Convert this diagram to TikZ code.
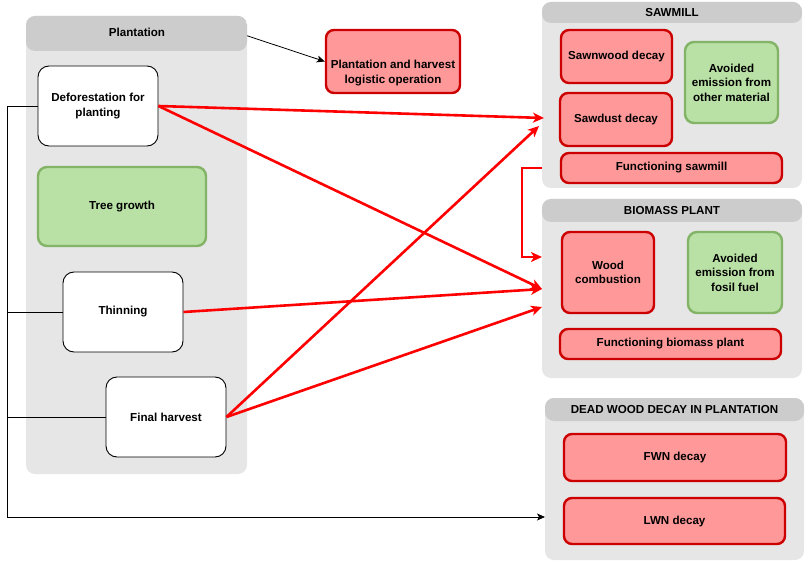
\documentclass[tikz,border=0pt]{standalone}
\usepackage{fontspec}
\setmainfont{Liberation Sans}
\usetikzlibrary{arrows.meta,calc}

\definecolor{hdrgray}{HTML}{CCCCCC}
\definecolor{bodygray}{HTML}{E6E6E6}
\definecolor{redfill}{HTML}{FF9999}
\definecolor{redline}{HTML}{CC0000}
\definecolor{greenfill}{HTML}{B9E0A5}
\definecolor{greenline}{HTML}{82B366}
\definecolor{flow}{HTML}{FF0000}

\tikzset{
  lbl/.style={font=\fontsize{11.6}{14.5}\selectfont\bfseries, align=center, inner sep=0pt},
  whitebox/.style={lbl, draw=black, line width=0.9pt, fill=white, rounded corners=11pt},
  redbox/.style={lbl, draw=redline, line width=2.4pt, fill=redfill, rounded corners=8pt},
  greenbox/.style={lbl, draw=greenline, line width=2.4pt, fill=greenfill, rounded corners=9pt},
  lane/.style={fill=bodygray, rounded corners=9pt, inner sep=0pt,
    path picture={\fill[hdrgray] (path picture bounding box.north west)
      rectangle ([yshift=-#1]path picture bounding box.north east);}},
  flowarrow/.style={draw=flow, line width=2.6pt, -{Stealth[length=11pt,width=10pt,inset=3pt]}},
  blackline/.style={draw=black, line width=0.8pt},
  blackarrow/.style={blackline, -{Stealth[length=8pt,width=7pt,inset=2pt]}},
}

\begin{document}
\begin{tikzpicture}[x=1pt,y=-1pt]
\useasboundingbox (0,0) rectangle (805,561);

% lanes
\node[lane=35pt, minimum width=221pt, minimum height=458pt] (plant) at (136.5,245) {};
\node[lbl] (plantTitle) at (137,32) {Plantation};
\node[lane=21pt, minimum width=260pt, minimum height=186pt] (sawmill) at (672,95) {};
\node[lbl] (sawTitle) at (672,12.5) {SAWMILL};
\node[lane=23pt, minimum width=260pt, minimum height=179pt] (biomass) at (672,288.5) {};
\node[lbl] (bioTitle) at (672,210.5) {BIOMASS PLANT};
\node[lane=23pt, minimum width=259pt, minimum height=162pt] (dead) at (674.5,479) {};
\node[lbl] (deadTitle) at (674.5,409.5) {DEAD WOOD DECAY IN PLANTATION};

% plantation activities
\node[whitebox, minimum width=120pt, minimum height=80pt] (defor) at (98,106) {Deforestation for\\planting};
\node[greenbox, minimum width=168pt, minimum height=79pt] (tree) at (122,206.5) {Tree growth};
\node[whitebox, minimum width=120pt, minimum height=80pt] (thinning) at (123,312) {Thinning};
\node[whitebox, minimum width=120pt, minimum height=80pt] (final) at (166,417) {Final harvest};

% logistics
\node[redbox, minimum width=134pt, minimum height=63pt] (logi) at (393,61.5) {};
\node[lbl] (logiText) at (393,73) {Plantation and harvest\\logistic operation};

% sawmill
\node[redbox, minimum width=111pt, minimum height=53pt] (sawn) at (616.5,56.5) {Sawnwood decay};
\node[redbox, minimum width=112pt, minimum height=53pt] (sawdust) at (616,119.5) {Sawdust decay};
\node[greenbox, minimum width=93pt, minimum height=81pt] (avoidMat) at (731.5,82.5) {Avoided\\emission from\\other material};
\node[redbox, minimum width=221pt, minimum height=30pt] (funsaw) at (671.5,168) {Functioning sawmill};

% biomass plant
\node[redbox, minimum width=92pt, minimum height=81pt] (wood) at (608,272.5) {Wood\\combustion};
\node[greenbox, minimum width=94pt, minimum height=81pt] (avoidFuel) at (735,272.5) {Avoided\\emission from\\fosil fuel};
\node[redbox, minimum width=221pt, minimum height=30pt] (funbio) at (670.5,344) {Functioning biomass plant};

% dead wood
\node[redbox, minimum width=222pt, minimum height=47pt] (fwn) at (675,457.5) {FWN decay};
\node[redbox, minimum width=221pt, minimum height=46pt] (lwn) at (674.5,521) {LWN decay};

% black connectors
\draw[blackarrow] ($(plant.north east)+(0,20)$) -- (logi.west);
\coordinate (busx) at (7,517);
\coordinate (busend) at (545,517);
\draw[blackarrow] (defor.west) -| (busx) -- (busend);
\draw[blackline] (thinning.west) -- (thinning.west -| busx);
\draw[blackline] (final.west) -- (final.west -| busx);

% red flows
\coordinate (sawin1) at (544,118);
\coordinate (sawin2) at (539,126);
\coordinate (bioin1) at (542,289);
\coordinate (bioin2) at (542,307);
\coordinate (bioin3) at (542,257);
\draw[flowarrow] (defor.east) -- (sawin1);
\draw[flowarrow] (defor.east) -- (bioin1);
\draw[flowarrow] (thinning.east) -- (bioin1);
\draw[flowarrow] (final.east) -- (sawin2);
\draw[flowarrow] (final.east) -- (bioin2);
\draw[flowarrow] (sawmill.west |- funsaw.west) -- ++(-20,0) |- (bioin3);
\end{tikzpicture}
\end{document}
